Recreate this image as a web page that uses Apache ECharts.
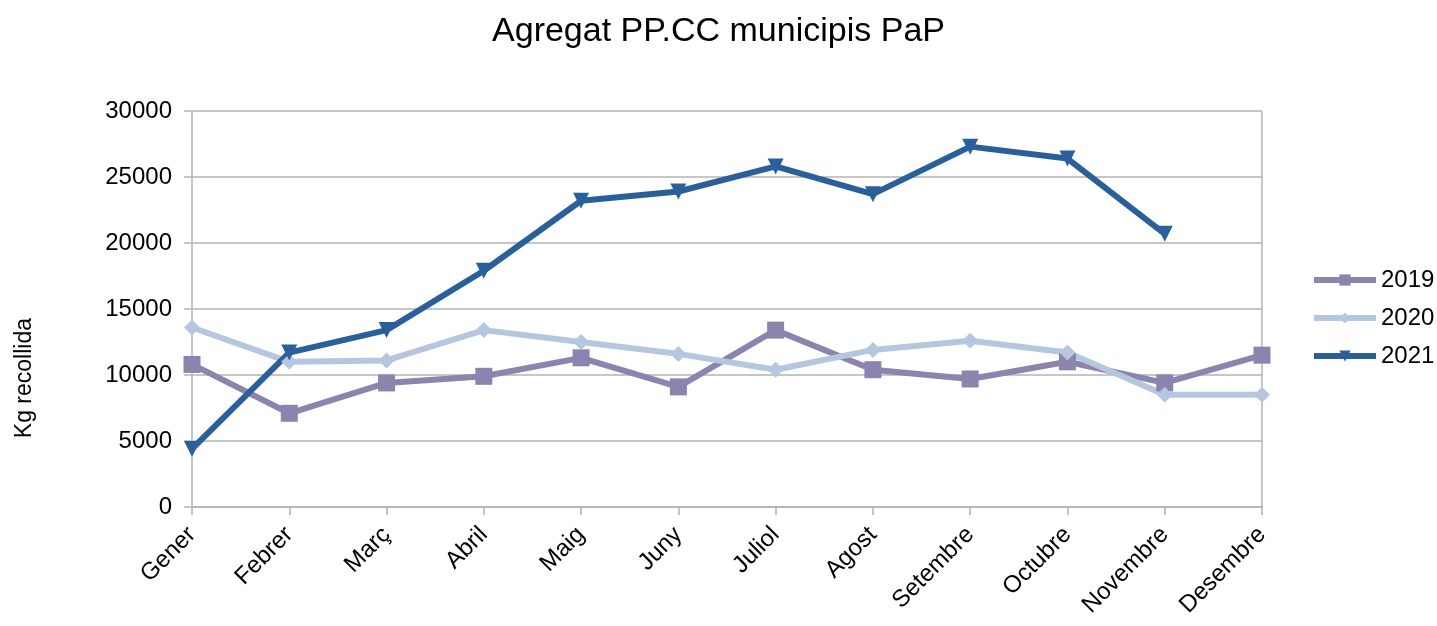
<!DOCTYPE html>
<html>
<head>
<meta charset="utf-8">
<script src="https://cdn.jsdelivr.net/npm/echarts@6/dist/echarts.min.js"></script>
<style>
  html, body { margin: 0; padding: 0; background: #fff; }
  #chart { width: 1437px; height: 626px; }
</style>
</head>
<body>
<div id="chart"></div>
<script>
var months = ["Gener", "Febrer", "Març", "Abril", "Maig", "Juny", "Juliol", "Agost", "Setembre", "Octubre", "Novembre", "Desembre"];
var y2019 = [10800, 7100, 9400, 9900, 11300, 9100, 13400, 10400, 9700, 11000, 9400, 11500];
var y2020 = [13600, 11000, 11100, 13400, 12500, 11600, 10400, 11900, 12600, 11700, 8500, 8500];
var y2021 = [4400, 11700, 13400, 17900, 23200, 23900, 25800, 23700, 27300, 26400, 20700];

var font = "Liberation Sans";
var chartDom = echarts.init(document.getElementById("chart"));

function line(name, data, color, symbol, size, rotate) {
  return {
    name: name,
    type: "line",
    data: data,
    symbol: symbol,
    symbolSize: size,
    symbolRotate: rotate || 0,
    lineStyle: { width: 6, color: color },
    itemStyle: { color: color },
    emphasis: { disabled: true },
    animation: false
  };
}

var option = {
  backgroundColor: "#fff",
  title: {
    text: "Agregat PP.CC municipis PaP",
    left: "center",
    top: 10,
    textStyle: { fontFamily: font, fontWeight: "normal", fontSize: 34, color: "#000" }
  },
  grid: { left: 192, right: 175, top: 111, bottom: 119 },
  legend: {
    orient: "vertical",
    left: 1306,
    top: 263,
    itemWidth: 62,
    itemHeight: 14,
    itemGap: 14,
    lineStyle: { width: 6 },
    textStyle: { fontFamily: font, fontSize: 24, color: "#000" },
    data: ["2019", "2020", "2021"]
  },
  graphic: [
    {
      type: "text",
      left: 13,
      top: 318,
      rotation: Math.PI / 2,
      style: { text: "Kg recollida", font: "23px " + font, fill: "#000" }
    },
    {
      // right border of the plot
      type: "line",
      shape: { x1: 1262, y1: 111, x2: 1262, y2: 507 },
      style: { stroke: "#b3b3b3", lineWidth: 1.5 },
      z: 0
    }
  ],
  xAxis: {
    type: "category",
    data: months,
    boundaryGap: false,
    axisLine: { lineStyle: { color: "#b3b3b3", width: 1.5 } },
    axisTick: { show: true, length: 8, lineStyle: { color: "#b3b3b3", width: 1.5 } },
    axisLabel: {
      rotate: 45,
      fontFamily: font,
      fontSize: 24,
      color: "#000",
      margin: 24,
      interval: 0
    },
    splitLine: { show: false }
  },
  yAxis: {
    type: "value",
    min: 0,
    max: 30000,
    interval: 5000,
    axisLine: { show: true, lineStyle: { color: "#b3b3b3", width: 1.5 } },
    axisTick: { show: true, length: 8, lineStyle: { color: "#b3b3b3", width: 1.5 } },
    axisLabel: {
      fontFamily: font,
      fontSize: 24,
      color: "#000",
      margin: 20,
      formatter: function (v) { return String(v); }
    },
    splitLine: { lineStyle: { color: "#b3b3b3", width: 1.5 } }
  },
  series: [
    line("2019", y2019, "#8b84ae", "rect", 17),
    line("2020", y2020, "#b4c7de", "diamond", 16),
    line("2021", y2021, "#2a6099", "triangle", 16, 180)
  ]
};
chartDom.setOption(option);
</script>
</body>
</html>
